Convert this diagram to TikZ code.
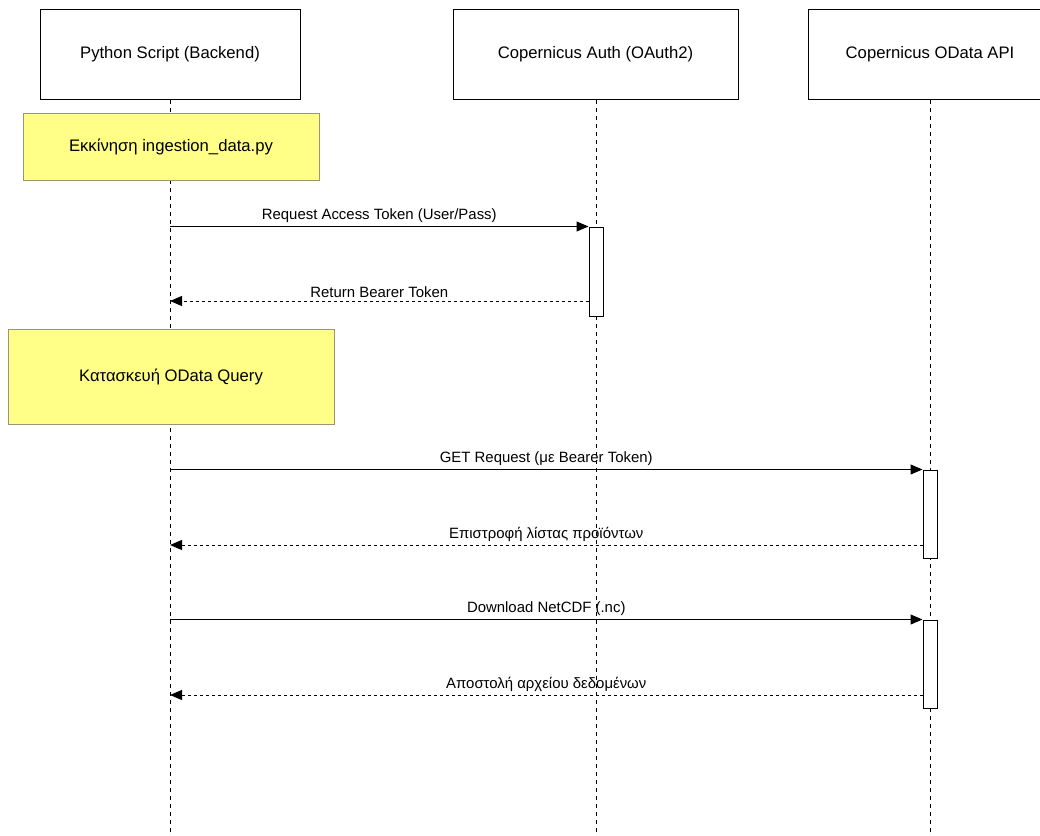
\documentclass[tikz,border=0pt]{standalone}
\usepackage{fontspec}
\setmainfont{Liberation Sans}
\usetikzlibrary{arrows.meta,positioning}

\definecolor{notefill}{HTML}{FFFF88}
\definecolor{notedraw}{HTML}{9C9670}

\begin{document}
\begin{tikzpicture}[
		x=0.75pt, y=-0.75pt,
		actor/.style={draw, line width=0.75pt, fill=white, minimum height=67.5pt, font=\fontsize{12.5}{15}\selectfont},
		note/.style={draw=notedraw, fill=notefill, font=\fontsize{12.5}{15}\selectfont},
		act/.style={draw, fill=white, line width=0.75pt, minimum width=10.5pt, inner sep=0pt},
		life/.style={line width=0.75pt, dash pattern=on 3pt off 3pt},
		call/.style={-{Triangle[length=9pt,width=7.5pt]}, line width=0.75pt},
		reply/.style={-{Triangle[length=9pt,width=7.5pt]}, line width=0.75pt, dash pattern=on 2pt off 2.5pt},
		msg/.style={above=2.5pt, inner sep=0pt, font=\fontsize{11.2}{13}\selectfont}]

		\useasboundingbox (0,0) rectangle (1040,836);

		% participants
		\node[actor, minimum width=195pt]    (py)    at (170,54)   {Python Script (Backend)};
		\node[actor, minimum width=213.75pt] (auth)  at (595.5,54) {Copernicus Auth (OAuth2)};
		\node[actor, minimum width=183pt]    (odata) at (930,54)   {Copernicus OData API};

		\coordinate (pyend)    at (170,836);
		\coordinate (authend)  at (596,836);
		\coordinate (odataend) at (930,836);

		% lifelines
		\draw[life] (py.south) -- (pyend);
		\draw[life] (auth.south -| authend) -- (authend);
		\draw[life] (odata.south) -- (odataend);

		% notes
		\node[note, minimum width=222pt, minimum height=50.25pt]  (start) at (171,146.5) {Εκκίνηση ingestion\_data.py};
		\node[note, minimum width=244.5pt, minimum height=71.25pt] (query) at (171,376.5) {Κατασκευή OData Query};

		% activations
		\node[act, minimum height=66.75pt] (act1) at (596,271.5) {};
		\node[act, minimum height=66pt]    (act2) at (930,514)   {};
		\node[act, minimum height=66pt]    (act3) at (930,664)   {};

		% messages
		\draw[call]  (py.south |- act1.north west) -- node[msg] {Request Access Token (User/Pass)} (act1.north west);
		\draw[reply] (act1.west |- 0,301) coordinate (r1) -- node[msg] {Return Bearer Token} (py.south |- r1);

		\draw[call]  (py.south |- act2.north west) -- node[msg] {GET Request (με Bearer Token)} (act2.north west);
		\draw[reply] (act2.west |- 0,545) coordinate (r2) -- node[msg] {Επιστροφή λίστας προϊόντων} (py.south |- r2);

		\draw[call]  (py.south |- act3.north west) -- node[msg] {Download NetCDF (.nc)} (act3.north west);
		\draw[reply] (act3.west |- 0,695) coordinate (r3) -- node[msg] {Αποστολή αρχείου δεδομένων} (py.south |- r3);
	\end{tikzpicture}
\end{document}
